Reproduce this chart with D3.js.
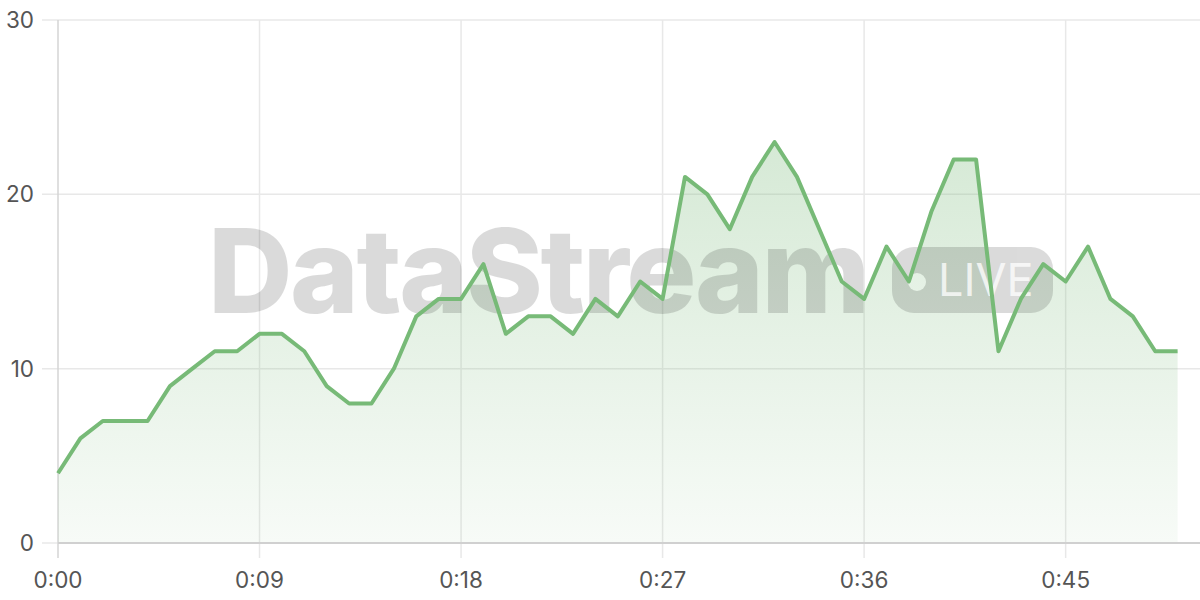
<!DOCTYPE html>
<html>
<head>
<meta charset="utf-8">
<script src="https://cdn.jsdelivr.net/npm/d3@7"></script>
<style>
  body { margin: 0; background: #fff; }
  svg { display: block; font-family: Inter, "Noto Sans", sans-serif; }
</style>
</head>
<body>
<div id="chart-area"></div>
<script>
// chart size
var width = 1200,
    height = 600;

// one sample per second
var seconds = d3.range(0, 51);
var values = [4, 6, 7, 7, 7, 9, 10, 11, 11, 12, 12, 11, 9, 8, 8, 10, 13, 14, 14, 16,
              12, 13, 13, 12, 14, 13, 15, 14, 21, 20, 18, 21, 23, 21, 18, 15, 14, 17, 15, 19,
              22, 22, 11, 14, 16, 15, 17, 14, 13, 11, 11];
var xTicks = [0, 9, 18, 27, 36, 45];
var yTicks = [0, 10, 20, 30];

var data = seconds.map(function(s, i) { return { t: s, v: values[i] }; });

var svg = d3.select("#chart-area").append("svg")
    .attr("width", width)
    .attr("height", height);

var x = d3.scaleLinear().domain([0, 51]).range([58, 1200]);
var y = d3.scaleLinear().domain([0, 30]).range([543, 20]);

function fmt(s) {
  return Math.floor(s / 60) + ":" + d3.format("02d")(s % 60);
}

// gradient for the area
var defs = svg.append("defs");
var grad = defs.append("linearGradient")
    .attr("id", "fill")
    .attr("x1", 0).attr("y1", 0).attr("x2", 0).attr("y2", 1);
grad.append("stop").attr("offset", "0%").attr("stop-color", "#7dbb7d").attr("stop-opacity", 0.32);
grad.append("stop").attr("offset", "100%").attr("stop-color", "#7dbb7d").attr("stop-opacity", 0.06);

// grid
svg.append("g").selectAll("line.h")
    .data(yTicks).enter().append("line")
    .attr("x1", 42).attr("x2", width)
    .attr("y1", function(d) { return y(d); })
    .attr("y2", function(d) { return y(d); })
    .attr("stroke", "#e8e8e8").attr("stroke-width", 1.5);

svg.append("g").selectAll("line.v")
    .data(xTicks).enter().append("line")
    .attr("x1", function(d) { return x(d); })
    .attr("x2", function(d) { return x(d); })
    .attr("y1", y(30)).attr("y2", 558)
    .attr("stroke", function(d) { return d === 0 ? "#d4d4d4" : "#e8e8e8"; })
    .attr("stroke-width", 1.5);

// area + watermark + line
var area = d3.area()
    .x(function(d) { return x(d.t); })
    .y0(y(0))
    .y1(function(d) { return y(d.v); });

svg.append("path")
    .datum(data)
    .attr("d", area)
    .attr("fill", "url(#fill)");

var wm = svg.append("g").attr("opacity", 0.14);
wm.append("text")
    .attr("x", 208).attr("y", 313)
    .attr("font-size", 117)
    .attr("font-weight", 800)
    .attr("letter-spacing", -2)
    .attr("textLength", 660)
    .attr("lengthAdjust", "spacing")
    .attr("fill", "#000")
    .text("DataStream");
wm.append("rect")
    .attr("x", 892).attr("y", 247)
    .attr("width", 161).attr("height", 66)
    .attr("rx", 22)
    .attr("fill", "#000");
wm.append("circle")
    .attr("cx", 917).attr("cy", 282).attr("r", 9)
    .attr("fill", "#fff");
svg.append("text")
    .attr("x", 938).attr("y", 296)
    .attr("font-size", 45)
    .attr("fill", "#fff")
    .attr("opacity", 0.75)
    .text("LIVE");

var line = d3.line()
    .x(function(d) { return x(d.t); })
    .y(function(d) { return y(d.v); });

svg.append("path")
    .datum(data)
    .attr("d", line)
    .attr("fill", "none")
    .attr("stroke", "#77ba77")
    .attr("stroke-width", 4)
    .attr("stroke-linejoin", "round");

// axis line
svg.append("line")
    .attr("x1", x(0)).attr("x2", width)
    .attr("y1", y(0)).attr("y2", y(0))
    .attr("stroke", "#d0d0d0").attr("stroke-width", 2);

// labels
svg.append("g").selectAll("text")
    .data(yTicks).enter().append("text")
    .attr("x", 34)
    .attr("y", function(d) { return y(d) + 8; })
    .attr("text-anchor", "end")
    .attr("font-size", 22.5)
    .attr("fill", "#555")
    .text(function(d) { return d; });

svg.append("g").selectAll("text")
    .data(xTicks).enter().append("text")
    .attr("x", function(d) { return x(d); })
    .attr("y", 588)
    .attr("text-anchor", "middle")
    .attr("font-size", 22.5)
    .attr("fill", "#555")
    .text(function(d) { return fmt(d); });
</script>
</body>
</html>
